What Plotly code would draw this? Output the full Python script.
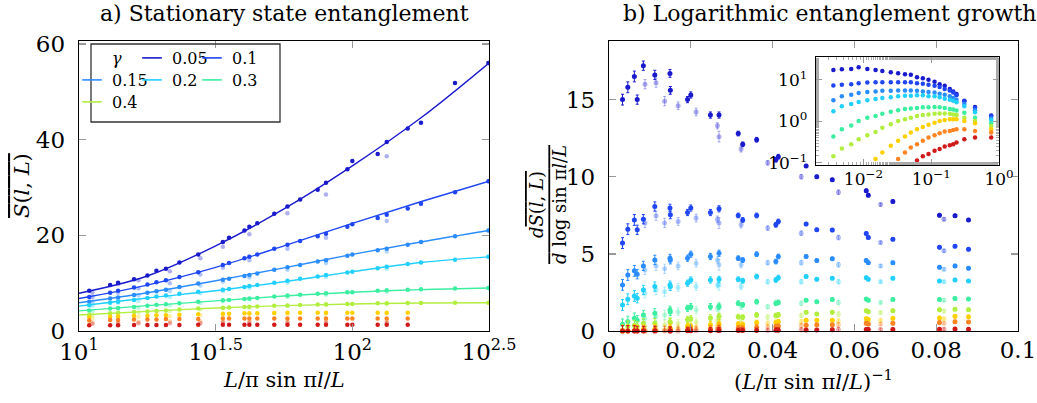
import plotly.graph_objects as go

W, H = 1037, 403
FONT = "DejaVu Serif"

# ---------------- data ----------------
gammas = ["0.05", "0.1", "0.15", "0.2", "0.3", "0.4", "0.5", "0.7", "1.0"]
colors = ["#1a1acd", "#1f46f2", "#2a8cff", "#22d0ff", "#3ceea0", "#b2ee40", "#ffd000", "#ff8424", "#d01a1a"]

# panel a) stationary entanglement vs (L/pi) sin(pi l/L)
xl = [10.9, 13.0, 13.9, 15.9, 17.8, 19.2, 20.8, 23.3, 27.3, 33.6, 35.4, 40.3, 42.0, 44.9,
      51.8, 57.9, 64.4, 74.7, 80.1, 95.9, 100.0, 123.8, 133.6, 159.5, 178.3, 237.5, 314.6]
l1 = [8.4, 9.6, 10.1, 10.8, 11.6, 12.6, 13.0, 14.3, 16.0, 18.6, 19.5, 21.0, 21.8, 22.5, 24.5, 26.0, 27.5, 29.5, 31.0, 33.8, 35.5, 37.0, 39.5, 42.3, 43.5, 51.8, 56.0]
l2 = [7.1, 8.0, 8.4, 9.1, 9.7, 10.2, 10.6, 11.3, 12.3, 13.8, 14.2, 15.2, 15.5, 16.0, 17.2, 18.0, 18.8, 19.8, 20.3, 21.8, 22.3, 23.6, 24.3, 25.6, 26.6, 29.0, 31.3]
l3 = [6.1, 6.8, 7.0, 7.5, 8.0, 8.3, 8.6, 9.2, 9.9, 10.7, 10.9, 11.5, 11.7, 12.0, 12.8, 13.3, 13.8, 14.5, 14.8, 15.7, 16.0, 16.9, 17.2, 18.0, 18.6, 19.8, 21.0]
l4 = [5.4, 5.9, 6.1, 6.5, 6.9, 7.2, 7.4, 7.8, 8.2, 8.6, 8.8, 9.2, 9.4, 9.6, 10.1, 10.5, 10.9, 11.4, 11.7, 12.2, 12.4, 13.1, 13.4, 14.0, 14.3, 14.9, 15.5]
l5 = [4.3, 4.7, 4.8, 5.0, 5.3, 5.5, 5.6, 5.8, 6.1, 6.4, 6.5, 6.7, 6.8, 6.9, 7.2, 7.4, 7.6, 7.8, 7.9, 8.1, 8.1, 8.4, 8.5, 8.6, 8.7, 8.9, 9.0]
l6 = [3.4, 3.7, 3.8, 3.95, 4.1, 4.2, 4.3, 4.5, 4.7, 4.85, 4.9, 5.0, 5.05, 5.1, 5.3, 5.35, 5.45, 5.55, 5.6, 5.65, 5.65, 5.8, 5.8, 5.85, 5.85, 5.9, 5.9]
l7 = [2.9, 3.0, 3.1, 3.2, 3.2, 3.3, 3.3, 3.4, 3.5, 3.6, 3.6, 3.7, 3.7, 3.7, 3.75, 3.8, 3.8, 3.8, 3.8, 3.8, 3.8, 3.8, 3.8, 3.8, None, None, None]
l8 = [2.2, 2.3, 2.3, 2.4, 2.4, 2.4, 2.5, 2.5, 2.5, 2.6, 2.6, 2.6, 2.6, 2.6, 2.6, 2.6, 2.6, 2.6, 2.6, 2.6, 2.6, 2.6, 2.6, 2.6, None, None, None]
l9 = [1.2, 1.2, 1.2, 1.25, 1.25, 1.25, 1.25, 1.25, 1.3, 1.3, 1.3, 1.3, 1.3, 1.3, 1.3, 1.3, 1.3, 1.3, 1.3, 1.3, 1.3, 1.3, 1.3, 1.3, None, None, None]

xll = [11.2, 13.9, 16.5, 21.5, 27.8, 33.6, 42.0, 57.9, 80.1, 133.6]
ll1 = [8.0, 9.8, 10.6, 12.5, 15.2, 17.6, 20.2, 24.6, 28.5, 36.5]
ll2 = [7.0, 8.0, 8.9, 10.0, 11.8, 13.2, 14.8, 17.2, 19.5, 23.0]
ll3 = [6.0, 6.8, 7.4, 8.3, 9.5, 10.3, 11.2, 12.8, 14.2, 16.6]
ll4 = [5.3, 5.9, 6.3, 7.1, 7.9, 8.3, 9.0, 10.1, 11.3, 13.0]
ll5 = [4.2, 4.7, 4.9, 5.4, 5.9, 6.2, 6.6, 7.1, 7.6, 8.2]
ll6 = [3.3, 3.7, 3.9, 4.2, 4.5, 4.7, 4.9, 5.2, 5.4, 5.6]
ll7 = [2.7, 2.9, 3.0, 3.1, 3.3, 3.4, 3.5, 3.6, 3.6, 3.7]
ll8 = [1.8, 1.9, 1.9, 2.0, 2.0, 2.0, 2.1, 2.1, 2.1, 2.1]
ll9 = [1.5, 1.5, 1.6, 1.6, 1.6, 1.7, 1.7, 1.7, 1.7, 1.7]

xfit = [10.0, 17.78, 31.62, 56.23, 100.0, 177.8, 316.2]
f1 = [7.9, 11.5, 17.8, 25.5, 34.5, 44.5, 56.0]
f2 = [6.8, 9.6, 13.3, 17.8, 22.5, 27.0, 31.3]
f3 = [5.9, 8.0, 10.5, 13.2, 16.0, 18.6, 21.0]
f4 = [5.2, 6.9, 8.4, 10.3, 12.4, 14.3, 15.5]
f5 = [4.2, 5.3, 6.3, 7.3, 8.1, 8.65, 9.0]
f6 = [3.35, 4.1, 4.8, 5.3, 5.65, 5.85, 5.9]

# panel b) logarithmic growth vs inverse chord length
xr_dark = [0.0033, 0.0046, 0.0062, 0.0069, 0.0084, 0.0112, 0.0149, 0.0150, 0.0192, 0.0200, 0.0248, 0.0269, 0.0316,
           0.0327, 0.0361, 0.0408, 0.0414, 0.0482, 0.0508, 0.0546, 0.0629, 0.0634, 0.0694, 0.0808, 0.0846, 0.0879]
r1 = [15.0, 15.8, 16.5, 15.0, 17.2, 16.6, 16.7, 15.6, 15.0, 15.3, 14.0, 14.0, 12.8, 12.1, 12.4, 11.1, 11.3, 10.7, 10.0, 9.8, 9.1, 8.8, 8.4, 7.5, 7.47, 7.2]
r2 = [5.7, 6.6, 7.2, 6.56, 7.25, 8.07, 7.97, 7.53, 7.68, 7.97, 7.68, 7.92, 7.49, 7.2, 7.49, 6.88, 7.1, 6.93, 6.56, 6.54, 6.32, 6.06, 5.95, 5.43, 5.5, 5.3]
r3 = [2.99, 3.63, 3.9, 3.68, 4.22, 4.61, 4.72, 4.6, 4.72, 4.98, 4.83, 5.04, 4.72, 4.6, 4.98, 4.5, 4.83, 4.83, 4.57, 4.68, 4.57, 4.43, 4.43, 4.13, 4.22, 4.07]
r4 = [1.69, 2.06, 2.27, 2.12, 2.66, 2.88, 2.99, 2.88, 3.1, 3.31, 3.31, 3.35, 3.35, 3.26, 3.53, 3.31, 3.46, 3.53, 3.35, 3.42, 3.46, 3.35, 3.42, 3.24, 3.31, 3.24]
r5 = [0.43, 0.61, 0.82, 0.7, 1.04, 1.15, 1.36, 1.25, 1.47, 1.58, 1.58, 1.6, 1.8, 1.7, 1.9, 1.8, 1.85, 2.0, 1.9, 2.05, 2.07, 2.0, 2.05, 2.05, 2.1, 2.07]
r6 = [0.06, 0.3, 0.35, 0.3, 0.5, 0.5, 0.6, 0.55, 0.75, 0.8, 0.85, 0.95, 0.93, 0.9, 1.04, 1.0, 1.05, 1.21, 1.1, 1.21, 1.32, 1.25, 1.32, 1.38, 1.41, 1.38]
r7 = [0.0, 0.02, 0.05, 0.05, 0.1, 0.12, 0.2, 0.15, 0.3, 0.3, 0.4, 0.45, 0.45, 0.42, 0.55, 0.55, 0.6, 0.7, 0.7, 0.7, 0.8, 0.75, 0.82, 0.85, 0.95, 0.93]
r8 = [0.0, 0.0, 0.0, 0.0, 0.02, 0.03, 0.05, 0.04, 0.08, 0.1, 0.15, 0.18, 0.2, 0.18, 0.25, 0.28, 0.3, 0.38, 0.4, 0.4, 0.5, 0.45, 0.5, 0.55, 0.6, 0.58]
r9 = [0.0, 0.0, 0.0, 0.0, 0.0, 0.0, 0.0, 0.0, 0.01, 0.01, 0.02, 0.03, 0.03, 0.03, 0.04, 0.05, 0.05, 0.07, 0.07, 0.08, 0.1, 0.1, 0.1, 0.12, 0.13, 0.12]
err_dark = [0.35, 0.35, 0.35, 0.3, 0.3, 0.3, 0.25, 0.25, 0.2, 0.2, 0.2, 0.2, 0.15, 0.15, 0.15, 0.15, 0.15, 0.1, 0.1, 0.1, 0.1, 0.1, 0.1, 0.1, 0.1, 0.1]

xr_light = [0.0088, 0.0115, 0.0136, 0.0169, 0.0213, 0.0265, 0.0269, 0.0323, 0.0388, 0.0470, 0.0561, 0.0664, 0.0819]
q1 = [16.0, 16.1, 14.9, 14.6, 14.2, 13.3, 12.6, 11.8, 10.9, 10.0, 9.0, 8.2, 7.25]
q2 = [7.0, 7.47, 7.0, 7.1, 7.32, 7.25, 7.0, 6.88, 6.67, 6.34, 6.06, 5.73, 5.2]
q3 = [3.96, 4.22, 4.03, 4.22, 4.4, 4.6, 4.29, 4.29, 4.43, 4.43, 4.29, 4.22, 4.0]
q4 = [2.45, 2.66, 2.55, 2.82, 2.88, 2.99, 2.99, 2.88, 3.2, 3.2, 3.2, 3.2, 3.2]
q5 = [0.82, 0.95, 1.04, 1.25, 1.36, 1.47, 1.5, 1.6, 1.58, 1.8, 1.85, 1.85, 2.0]
q6 = [0.3, 0.35, 0.4, 0.5, 0.6, 0.7, 0.7, 0.8, 0.9, 1.0, 1.1, 1.2, 1.3]
q7 = [0.05, 0.08, 0.1, 0.2, 0.25, 0.35, 0.4, 0.4, 0.5, 0.6, 0.65, 0.7, 0.8]
q8 = [0.0, 0.02, 0.03, 0.08, 0.1, 0.15, 0.18, 0.2, 0.28, 0.35, 0.4, 0.45, 0.5]
q9 = [0.0, 0.0, 0.0, 0.0, 0.01, 0.02, 0.02, 0.03, 0.04, 0.06, 0.08, 0.09, 0.11]
err_light = [0.3, 0.3, 0.3, 0.25, 0.25, 0.2, 0.35, 0.2, 0.15, 0.15, 0.15, 0.1, 0.1]

# inset (log-log)
xi = [0.0036, 0.0048, 0.0066, 0.0085, 0.0114, 0.0151, 0.019, 0.0253, 0.0325, 0.041, 0.050, 0.0617,
      0.0752, 0.0912, 0.112, 0.133, 0.158, 0.188, 0.211, 0.236, 0.308, 0.443, 0.767]
i1 = [17.3, 17.9, 18.3, 20.0, 18.3, 17.3, 16.4, 15.2, 14.4, 13.6, 13.2, 11.6, 11.0, 10.0, 8.96, 7.88, 7.2, 6.0, 5.27, 4.56, 3.16, 2.23, 1.39]
i2 = [7.33, 7.6, 7.88, 8.33, 8.64, 8.8, 8.8, 8.8, 8.8, 8.8, 8.8, 8.33, 8.03, 7.6, 7.2, 6.69, 6.0, 5.57, 4.99, 4.24, 3.05, 2.11, 1.34]
i3 = [3.22, 4.01, 4.4, 4.82, 5.08, 5.27, 5.47, 5.47, 5.57, 5.57, 5.57, 5.47, 5.27, 5.08, 4.99, 4.64, 4.4, 4.01, 3.66, 3.34, 2.63, 1.86, 1.18]
i4 = [1.76, 2.32, 2.63, 2.94, 3.22, 3.46, 3.66, 3.8, 4.01, 4.16, 4.16, 4.24, 4.24, 4.01, 4.01, 3.8, 3.53, 3.34, 3.16, 2.89, 2.32, 1.67, 1.08]
i5 = [0.431, 0.646, 0.80, 1.02, 1.22, 1.34, 1.52, 1.70, 1.86, 2.0, 2.05, 2.11, 2.19, 2.19, 2.23, 2.19, 2.11, 2.0, 1.93, 1.83, 1.61, 1.22, 0.896]
i6 = [0.144, 0.223, 0.283, 0.373, 0.464, 0.557, 0.706, 0.849, 1.02, 1.12, 1.22, 1.34, 1.42, 1.47, 1.52, 1.55, 1.55, 1.52, 1.47, 1.42, 1.22, 1.02, 0.774]
i7 = [None, None, None, None, None, 0.124, 0.179, 0.259, 0.340, 0.431, 0.537, 0.646, 0.733, 0.833, 0.93, 1.02, 1.08, 1.12, 1.12, 1.12, 1.02, 0.896, 0.646]
i8 = [None, None, None, None, None, None, None, None, 0.124, 0.179, 0.236, 0.283, 0.340, 0.408, 0.464, 0.518, 0.568, 0.589, 0.622, 0.646, 0.646, 0.589, 0.537]
i9 = [None, None, None, None, None, None, None, None, None, None, None, 0.114, 0.144, 0.164, 0.197, 0.215, 0.249, 0.268, 0.283, 0.310, 0.373, 0.408, 0.408]

left_pts = [l1, l2, l3, l4, l5, l6, l7, l8, l9]
left_light = [ll1, ll2, ll3, ll4, ll5, ll6, ll7, ll8, ll9]
fits = [f1, f2, f3, f4, f5, f6]
right_dark = [r1, r2, r3, r4, r5, r6, r7, r8, r9]
right_light = [q1, q2, q3, q4, q5, q6, q7, q8, q9]
inset_vals = [i1, i2, i3, i4, i5, i6, i7, i8, i9]


def fx(px):
    return px / W


def fy(py):
    return 1 - py / H


def rgba(hexc, a):
    h = hexc.lstrip("#")
    return "rgba(%d,%d,%d,%.2f)" % (int(h[0:2], 16), int(h[2:4], 16), int(h[4:6], 16), a)


fig = go.Figure()

# ---- panel a ----
for k in range(9):
    c = colors[k]
    fig.add_trace(go.Scatter(x=xll, y=left_light[k], mode="markers", xaxis="x", yaxis="y",
                             marker=dict(size=4.5, color=rgba(c, 0.35)), showlegend=False,
                             hoverinfo="skip"))
    fig.add_trace(go.Scatter(x=xl, y=left_pts[k], mode="markers", xaxis="x", yaxis="y",
                             marker=dict(size=4.5, color=c), showlegend=False))
for k in range(6):
    fig.add_trace(go.Scatter(x=xfit, y=fits[k], mode="lines", line=dict(color=colors[k], width=1.4, shape="spline"),
                             xaxis="x", yaxis="y", showlegend=False))

# ---- panel b ----
for k in range(9):
    c = colors[k]
    fig.add_trace(go.Scatter(x=xr_light, y=right_light[k], mode="markers", xaxis="x2", yaxis="y2",
                             marker=dict(size=5, color=rgba(c, 0.35)), cliponaxis=False,
                             error_y=dict(type="data", array=err_light, color=rgba(c, 0.35), thickness=1, width=1.5),
                             showlegend=False))
    fig.add_trace(go.Scatter(x=xr_dark, y=right_dark[k], mode="markers", xaxis="x2", yaxis="y2",
                             marker=dict(size=5, color=c), cliponaxis=False,
                             error_y=dict(type="data", array=err_dark, color=c, thickness=1, width=1.5),
                             showlegend=False))

# ---- inset ----
for k in range(9):
    fig.add_trace(go.Scatter(x=xi, y=inset_vals[k], mode="markers", xaxis="x3", yaxis="y3",
                             marker=dict(size=4.5, color=colors[k]), showlegend=False))

# ---- legend (3 rows) ----
def blank(name, leg):
    return go.Scatter(x=[None], y=[None], mode="markers", name=name, legend=leg,
                      marker=dict(size=2, color="rgba(0,0,0,0)"), xaxis="x", yaxis="y")


fig.add_trace(blank("<i>γ</i>", "legend"))
rows = ["legend", "legend", "legend2", "legend2", "legend2", "legend3"]
for k in range(6):
    c = colors[k]
    fig.add_trace(go.Scatter(x=[None], y=[None], mode="markers", name=gammas[k], legend=rows[k],
                             marker=dict(symbol="line-ew-open", size=14, color=c, line=dict(color=c, width=1.6)),
                             xaxis="x", yaxis="y"))
for leg in ["legend", "legend2", "legend3"]:
    fig.add_trace(blank(" ", leg))

tickfont = dict(family=FONT, size=23, color="black")
axis_common = dict(showline=True, linecolor="black", linewidth=1.3, mirror="ticks", ticks="inside",
                   ticklen=7, tickcolor="#999999", tickwidth=1.3, showgrid=False, zeroline=False,
                   tickfont=tickfont, automargin=False)

legend_common = dict(orientation="h", xanchor="left", yanchor="middle", bgcolor="rgba(0,0,0,0)",
                     borderwidth=0, entrywidth=15, font=dict(family=FONT, size=16, color="black"),
                     itemclick=False, itemdoubleclick=False, tracegroupgap=0)

fig.update_layout(
    width=W, height=H,
    margin=dict(l=0, r=0, t=0, b=0),
    paper_bgcolor="white", plot_bgcolor="white",
    font=dict(family=FONT, size=21, color="black"),
    xaxis=dict(type="log", range=[1, 2.5], domain=[fx(79), fx(489)], anchor="y",
               tickvals=[10, 31.6228, 100, 316.228],
               ticktext=["10<sup>1</sup>", "10<sup>1.5</sup>", "10<sup>2</sup>", "10<sup>2.5</sup>"],
               ticklabelstandoff=0, **axis_common),
    yaxis=dict(range=[0, 60.6], domain=[fy(331), fy(41)], anchor="x", tickvals=[0, 20, 40, 60],
               ticklabelstandoff=8, **axis_common),
    xaxis2=dict(range=[0, 0.1], domain=[fx(609), fx(1018)], anchor="y2",
                tickvals=[0, 0.02, 0.04, 0.06, 0.08, 0.1],
                ticktext=["0", "0.02", "0.04", "0.06", "0.08", "0.1"], ticklabelstandoff=-2, **axis_common),
    yaxis2=dict(range=[0, 18.8], domain=[fy(331), fy(41)], anchor="x2", tickvals=[0, 5, 10, 15],
                ticklabelstandoff=8, **axis_common),
    xaxis3=dict(type="log", range=[-2.7, 0.0], domain=[fx(816), fx(999)], anchor="y3",
                tickvals=[0.01, 0.1, 1], ticktext=["10<sup>−2</sup>", "10<sup>−1</sup>", "10<sup>0</sup>"],
                showline=True, linecolor="black", linewidth=1.3, mirror="allticks", ticks="inside",
                ticklen=6, tickcolor="#999999", showgrid=False, zeroline=False, automargin=False,
                minor=dict(ticks="inside", ticklen=3, tickcolor="#aaaaaa", showgrid=False),
                tickfont=dict(family=FONT, size=17, color="black"), ticklabelstandoff=-2),
    yaxis3=dict(type="log", range=[-1.05, 1.55], domain=[fy(165), fy(57)], anchor="x3",
                tickvals=[0.1, 1, 10], ticktext=["10<sup>−1</sup>", "10<sup>0</sup>", "10<sup>1</sup>"],
                showline=True, linecolor="black", linewidth=1.3, mirror="allticks", ticks="inside",
                ticklen=6, tickcolor="#999999", showgrid=False, zeroline=False, automargin=False,
                minor=dict(ticks="inside", ticklen=3, tickcolor="#aaaaaa", showgrid=False),
                tickfont=dict(family=FONT, size=17, color="black"), ticklabelstandoff=4),
    legend=dict(x=fx(72), y=fy(58), **legend_common),
    legend2=dict(x=fx(72), y=fy(80), **legend_common),
    legend3=dict(x=fx(72), y=fy(102), **legend_common),
    showlegend=True,
)

fig.add_shape(type="rect", xref="paper", yref="paper", x0=fx(91), x1=fx(280), y0=fy(122), y1=fy(44),
              line=dict(color="#333333", width=1.3), layer="above")

ann = dict(xref="paper", yref="paper", showarrow=False, xanchor="center", yanchor="middle",
           font=dict(family=FONT, size=22, color="black"))
fig.add_annotation(text="a) Stationary state entanglement", x=fx(284), y=fy(14), **ann)
fig.add_annotation(text="b) Logarithmic entanglement growth", x=fx(830), y=fy(14), **ann)
lab = dict(xref="paper", yref="paper", showarrow=False, xanchor="center", yanchor="middle",
           font=dict(family=FONT, size=21, color="black"))
fig.add_annotation(text="<i>L</i>/π sin π<i>l</i>/<i>L</i>", x=fx(284), y=fy(380), **lab)
fig.add_annotation(text="(<i>L</i>/π sin π<i>l</i>/<i>L</i>)<sup>−1</sup>", x=fx(813), y=fy(380), **lab)
fig.add_annotation(text="<span style='text-decoration:overline'><i>S</i>(<i>l</i>, <i>L</i>)</span>",
                   x=fx(22), y=fy(186), textangle=-90, **lab)
fig.add_annotation(
    text="<i>d</i><span style='text-decoration:overline'><i>S</i>(<i>l</i>, <i>L</i>)</span><br>"
         "<span style='text-decoration:overline'><i>d</i> log sin π<i>l</i>/<i>L</i></span>",
    x=fx(548), y=fy(205), textangle=-90,
    xref="paper", yref="paper", showarrow=False, xanchor="center", yanchor="middle",
    font=dict(family=FONT, size=18, color="black"))

fig.write_html("out.html", config={"staticPlot": True, "displayModeBar": False},
               post_script="document.body.style.margin='0px';document.body.style.padding='0px';")
